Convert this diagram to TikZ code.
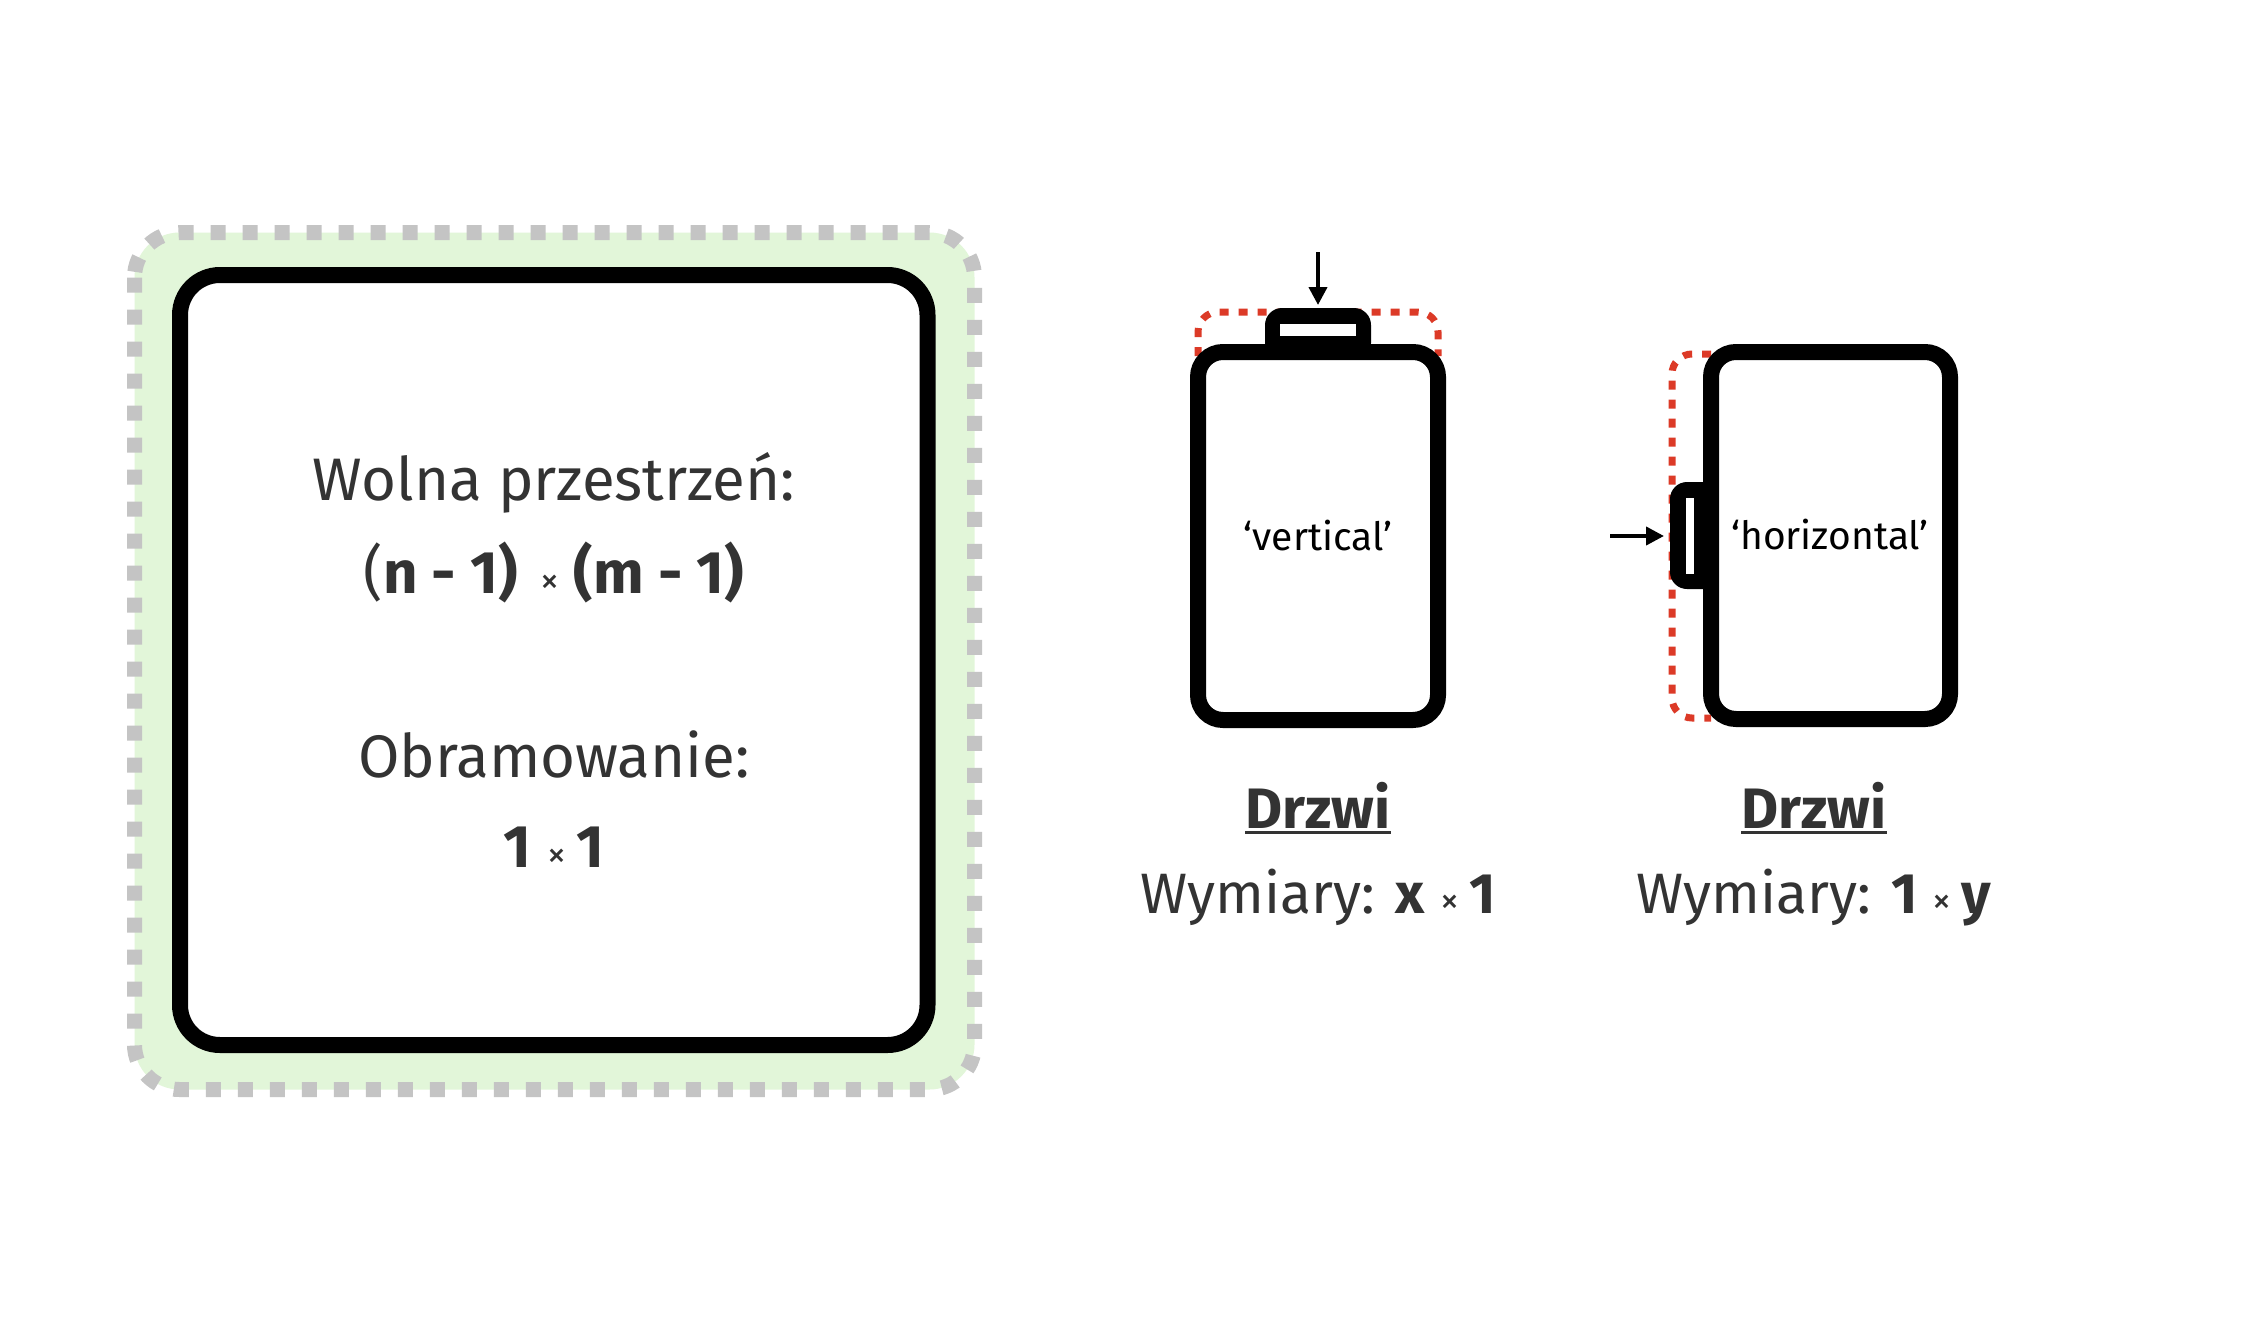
\documentclass[tikz,border=0pt]{standalone}
\usepackage{fontspec}
\setmainfont{Fira Sans}
\usetikzlibrary{arrows.meta}
\definecolor{txt}{HTML}{333333}
\definecolor{grn}{HTML}{E2F6D9}
\definecolor{gry}{HTML}{C4C4C4}
\definecolor{rd}{HTML}{DC3A27}
\newcommand\smxs{{\fontsize{19pt}{19pt}\selectfont ×\ }}
\begin{document}
\begin{tikzpicture}[x=0.5pt,y=-0.5pt,
  bigtxt/.style={text=txt,inner sep=0pt,anchor=base,font=\fontsize{30pt}{36pt}\selectfont},
  lbltxt/.style={text=txt,inner sep=0pt,anchor=base,font=\fontsize{28.5pt}{34pt}\selectfont},
  doortxt/.style={text=black,inner sep=0pt,anchor=base,font=\fontsize{19.5pt}{24pt}\selectfont},
  frame/.style={draw=gry,fill=grn,line width=7.5pt,dash pattern=on 7.5pt off 8.5pt,rounded corners=22.5pt},
  blackbox/.style={draw=black,fill=white,line width=8pt,rounded corners=20pt},
  doorbox/.style={draw=black,fill=white,line width=8pt,rounded corners=12.5pt},
  reddash/.style={draw=rd,line width=3.5pt,dash pattern=on 4.5pt off 5pt,rounded corners=10pt},
  pointer/.style={draw=black,line width=2pt,-{Triangle[length=9pt,width=9pt]}}
]
\useasboundingbox (0,0) rectangle (2248,1322);
\fill[white] (0,0) rectangle (2248,1322);

% big room
\path[frame] (134.5,232.5) rectangle (974.5,1089.5);
\path[blackbox] (180,275) rectangle (927.5,1045);
\node[bigtxt] (t1) at (554,500) {Wolna przestrzeń:};
\node[bigtxt] (t2) at (554,593) {(\textbf{n - 1)}\hspace{3.5pt} \smxs\hspace{2pt}\textbf{(m - 1)}};
\node[bigtxt] (t3) at (554,777) {Obramowanie:};
\node[bigtxt] (t4) at (554,867) {\textbf{1} \smxs\textbf{1}};

% vertical door
\path[reddash] (1198,356) -- (1198,312) -- (1438,312) -- (1438,356);
\fill[black, rounded corners=8.5pt] (1265,308) rectangle (1371,360);
\fill[black] (1265,330) rectangle (1371,350);
\fill[white] (1280,324) rectangle (1356,336);
\path[doorbox] (1198,352) rectangle (1438,720);
\node[doortxt] (v) at (1318,550) {‘vertical’};
\coordinate (va) at (1318,252);
\coordinate (vb) at (1318,305);
\draw[pointer] (va) -- (vb);

% horizontal door
\path[reddash] (1711,354) -- (1672,354) -- (1672,718) -- (1711,718);
\fill[black, rounded corners=8.5pt] (1670,482) rectangle (1722,589);
\fill[black] (1690,482) rectangle (1711,589);
\fill[white] (1686,498) rectangle (1694,574);
\path[doorbox] (1711,352) rectangle (1950,719);
\node[doortxt] (h) at (1830,549) {‘horizontal’};
\coordinate (ha) at (1610,536);
\coordinate (hb) at (1664,536);
\draw[pointer] (ha) -- (hb);

% labels
\node[lbltxt] (d1) at (1318,828) {\textbf{Drzwi}};
\draw[txt,line width=1.5pt] ([yshift=-2.25pt]d1.base west) -- ([yshift=-2.25pt]d1.base east);
\node[lbltxt] (w1) at (1318,913) {Wymiary: \textbf{x} \smxs\textbf{1}};
\node[lbltxt] (d2) at (1814,828) {\textbf{Drzwi}};
\draw[txt,line width=1.5pt] ([yshift=-2.25pt]d2.base west) -- ([yshift=-2.25pt]d2.base east);
\node[lbltxt] (w2) at (1814,913) {Wymiary: \textbf{1} \smxs\textbf{y}};
\end{tikzpicture}
\end{document}
